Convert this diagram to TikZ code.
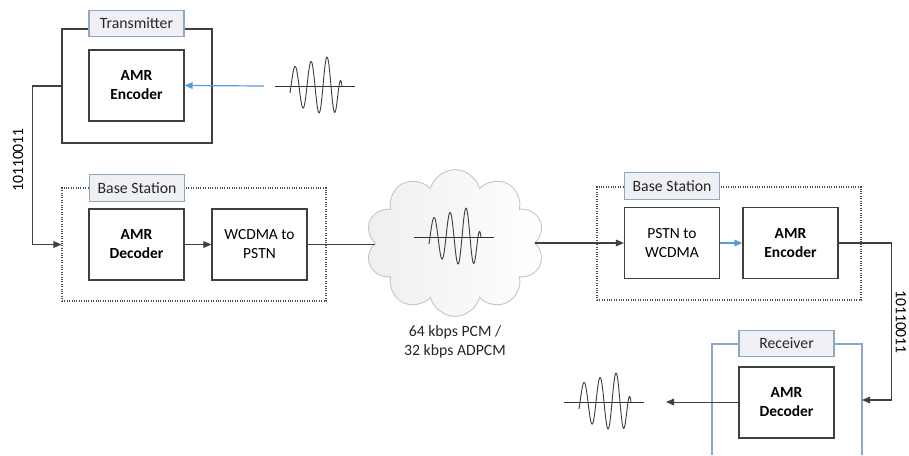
\documentclass[tikz,border=0pt]{standalone}
\usepackage{fontspec}
\setmainfont{Carlito}
\usetikzlibrary{arrows.meta, positioning, shapes.symbols, calc}

\definecolor{boxline}{HTML}{404040}
\definecolor{tagfill}{HTML}{EEF0F3}
\definecolor{tagline}{HTML}{8FA8C0}
\definecolor{sigblue}{HTML}{5B9BD5}
\definecolor{rxblue}{HTML}{8AA8C8}

\tikzset{
  declare function={
    uq(\u)=\u*\u*\u*\u;
    env(\u)=(18+16*\u)*(1-uq(\u)*uq(\u)*uq(\u));
  },
  block/.style={draw=boxline, line width=0.9pt, minimum width=71.25pt, minimum height=53.25pt,
    align=center, inner sep=0pt, font=\fontsize{11.6}{14.25}\selectfont},
  tag/.style={draw=tagline, fill=tagfill, line width=0.8pt, minimum width=71.25pt, minimum height=20pt,
    inner sep=0pt, text=black!85, font=\fontsize{11.8}{13}\selectfont},
  station/.style={draw=black!70, densely dotted, line width=0.8pt, minimum width=198pt, minimum height=84.75pt},
  link/.style={draw=boxline, line width=0.8pt},
  wave/.pic={
    \draw[line width=0.6pt, black!80] (-40,0) -- (40,0);
    \draw[line width=0.7pt, black!75] plot[domain=0:52, samples=120]
      ({\x-25}, {-env(\x/52)*cos(22.5*(\x-5))});
  }
}

\begin{document}
\begin{tikzpicture}[x=0.75pt, y=-0.75pt, >={Triangle[length=6pt, width=5pt]}]
  \useasboundingbox (0,0) rectangle (909,455);

  % transmitter
  \node[draw=boxline, line width=0.8pt, minimum width=112.5pt, minimum height=85.5pt] (txbox) at (137,86) {};
  \node[tag] (txtag) at (136.5,23.5) {Transmitter};
  \node[block] (enc1) at (136.5,85.5) {\textbf{AMR}\\\textbf{Encoder}};
  \pic at (315,86) {wave};
  \coordinate (voice1) at (264,86);
  \draw[sigblue, line width=0.9pt, ->] (voice1) -- (enc1.east);

  % base station (left)
  \node[station] (bs1) at (194,244.5) {};
  \node[tag] (bs1tag) at (137,188) {Base Station};
  \node[block] (dec1) at (136.5,244.5) {\textbf{AMR}\\\textbf{Decoder}};
  \node[block] (w2p) at (259.5,244.5) {WCDMA to\\PSTN};
  \draw[link, ->] (dec1) -- (w2p);

  \draw[link, ->] (txbox.west) -- ++(-29,0) |- (bs1.west);
  \node[rotate=90, font=\fontsize{11.8}{13}\selectfont] (bits1) at (18,160) {10110011};

  % network
  \node[cloud, cloud puffs=10, aspect=1.22, draw=gray!45, line width=0.7pt,
    minimum width=134pt, minimum height=110pt, left color=gray!13, right color=white] (net) at (455,243) {};
  \pic at (454,237) {wave};
  \node[align=center, text=black!85, font=\fontsize{11.8}{14.25}\selectfont] (rate) at (455,342)
    {64 kbps PCM /\\32 kbps ADPCM};
  \draw[link] (w2p.east) -- (net.west |- w2p.east);

  % base station (right)
  \node[station] (bs2) at (729,243.5) {};
  \node[tag] (bs2tag) at (672,186) {Base Station};
  \node[block] (p2w) at (672,243) {PSTN to\\WCDMA};
  \node[block] (enc2) at (790.5,243) {\textbf{AMR}\\\textbf{Encoder}};
  \draw[link, ->] (net.east |- p2w.west) -- (p2w.west);
  \draw[sigblue, line width=0.9pt, ->] (p2w) -- (enc2);

  % receiver
  \draw[rxblue, line width=0.8pt] (712,455) |- (862,344) -- (862,455);
  \node[tag] (rxtag) at (786.5,343.5) {Receiver};
  \node[block] (dec2) at (786.5,402.5) {\textbf{AMR}\\\textbf{Decoder}};
  \coordinate (rxin) at (862,400);
  \draw[link, ->] (enc2.east) -- ++(53,0) |- (rxin);
  \node[rotate=-90, font=\fontsize{11.8}{13}\selectfont] (bits2) at (901,322) {10110011};
  \coordinate (voice2) at (666,402);
  \draw[link, line width=0.7pt, ->] (dec2.west |- voice2) -- (voice2);
  \pic at (604,402) {wave};
\end{tikzpicture}
\end{document}
